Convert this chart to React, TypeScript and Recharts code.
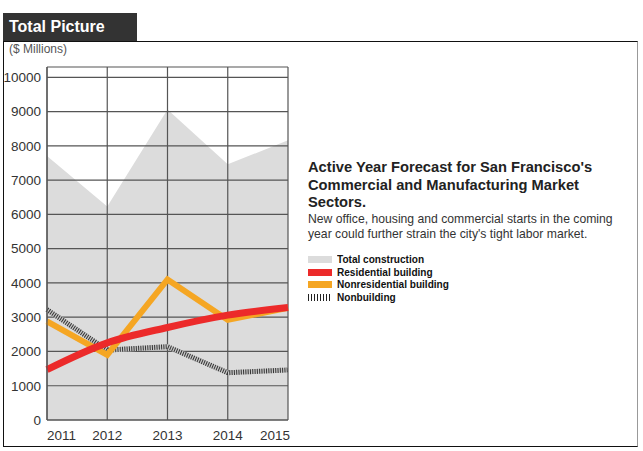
import React from 'react';
import { ComposedChart, Area, Line, XAxis, YAxis, CartesianGrid } from 'recharts';

const years = ['2011', '2012', '2013', '2014', '2015'];
const totalConstruction = [7700, 6230, 9060, 7460, 8160];
const residential = [1470, 2250, 2700, 3060, 3280];
const nonresidential = [2880, 1900, 4100, 2920, 3270];
const nonbuilding = [3220, 2040, 2140, 1380, 1460];
const yTicks = [0, 1000, 2000, 3000, 4000, 5000, 6000, 7000, 8000, 9000, 10000];

const legendItems = [
  { name: 'Total construction', color: '#dcdcdc' },
  { name: 'Residential building', color: '#ec2a2a' },
  { name: 'Nonresidential building', color: '#f5a623' },
  { name: 'Nonbuilding', color: 'hatch' },
];

const data = years.map((year, i) => ({
  year,
  total: totalConstruction[i],
  residential: residential[i],
  nonresidential: nonresidential[i],
  nonbuilding: nonbuilding[i],
}));

const CHART_W = 300;
const CHART_H = 451;
const DOMAIN: [number, number] = [0, 10300];
const font = 'Arial, "Liberation Sans", Helvetica, sans-serif';

// first and last year labels are pulled inside the plot edges
const YearTick = (props: any) => {
  const { x, y, payload, index } = props;
  const anchor = index === 0 ? 'start' : index === years.length - 1 ? 'end' : 'middle';
  const dx = index === years.length - 1 ? 2 : 0;
  return (
    <text x={x + dx} y={y} dy="0.71em" textAnchor={anchor} fill="#333" fontSize={13.5} fontFamily={font}>
      {payload.value}
    </text>
  );
};

const Swatch = ({ color }: { color: string }) => {
  const bg = color === 'hatch' ? 'repeating-linear-gradient(90deg, #222 0 1px, #fff 1px 3px)' : color;
  return <span style={{ display: 'inline-block', width: 24, height: 7, marginRight: 5, flex: 'none', background: bg }} />;
};

export default function App() {
  return (
    <div style={{ position: 'absolute', left: 0, top: 0, width: 643, height: 451, background: '#fff', fontFamily: font }}>
      {/* title tab */}
      <div
        style={{
          position: 'absolute', left: 3, top: 13, width: 134, height: 28, background: '#333',
          color: '#fff', fontWeight: 'bold', fontSize: 16, lineHeight: '28px', paddingLeft: 6, boxSizing: 'border-box',
        }}
      >
        Total Picture
      </div>
      {/* frame */}
      <div
        style={{
          position: 'absolute', left: 3, top: 41, width: 635, height: 406, boxSizing: 'border-box',
          borderTop: '1.5px solid #111', borderLeft: '1px solid #111', borderBottom: '1.5px solid #111', borderRight: '1px solid #999',
        }}
      />
      <div style={{ position: 'absolute', left: 9, top: 42, fontSize: 12, color: '#555' }}>($ Millions)</div>

      {/* area layer sits under the grid */}
      <div style={{ position: 'absolute', left: 0, top: 0 }}>
        <ComposedChart width={CHART_W} height={CHART_H} data={data} margin={{ top: 67, right: 12, left: 47, bottom: 31 }}>
          <XAxis dataKey="year" hide scale="point" padding={{ left: 0, right: 0 }} />
          <YAxis hide domain={DOMAIN} ticks={yTicks} />
          <Area type="linear" dataKey="total" stroke="none" fill="#dcdcdc" fillOpacity={1} isAnimationActive={false} />
        </ComposedChart>
      </div>

      {/* grid, axes and lines */}
      <div style={{ position: 'absolute', left: 0, top: 0 }}>
        <ComposedChart width={CHART_W} height={CHART_H} data={data} margin={{ top: 67, right: 12, left: 0, bottom: 0 }}>
          <CartesianGrid stroke="#555" strokeWidth={1.2} />
          <XAxis
            dataKey="year"
            scale="point"
            padding={{ left: 0, right: 0 }}
            height={31}
            axisLine={{ stroke: '#555', strokeWidth: 1.2 }}
            tickLine={false}
            tickMargin={4}
            tick={<YearTick />}
            interval={0}
          />
          <YAxis
            domain={DOMAIN}
            ticks={yTicks}
            width={47}
            axisLine={{ stroke: '#555', strokeWidth: 1.2 }}
            tickLine={false}
            tickMargin={0}
            tick={{ fill: '#333', fontSize: 13.5, fontFamily: font }}
          />
          <Line type="linear" dataKey="nonbuilding" stroke="#c8c8c8" strokeWidth={5} dot={false} isAnimationActive={false} />
          <Line type="linear" dataKey="nonbuilding" stroke="#333" strokeWidth={5} strokeDasharray="1 1.3" dot={false} isAnimationActive={false} />
          <Line type="linear" dataKey="nonresidential" stroke="#f5a623" strokeWidth={6} dot={false} isAnimationActive={false} />
          <Line type="monotone" dataKey="residential" stroke="#ec2a2a" strokeWidth={7} dot={false} isAnimationActive={false} />
        </ComposedChart>
      </div>

      {/* caption and legend */}
      <div style={{ position: 'absolute', left: 308, top: 159, width: 325 }}>
        <div style={{ fontSize: 14.7, fontWeight: 'bold', color: '#222', lineHeight: '17.5px' }}>
          Active Year Forecast for San Francisco's
          <br />
          Commercial and Manufacturing Market
          <br />
          Sectors.
        </div>
        <div style={{ fontSize: 12.2, color: '#333', lineHeight: '15px' }}>
          New office, housing and commercial starts in the coming
          <br />
          year could further strain the city's tight labor market.
        </div>
        <div style={{ marginTop: 12 }}>
          {legendItems.map((item) => (
            <div key={item.name} style={{ display: 'flex', alignItems: 'center', height: 12.5, overflow: 'visible' }}>
              <Swatch color={item.color} />
              <span
                style={{
                  display: 'inline-block', fontSize: 11.2, lineHeight: '11px', fontWeight: 'bold', color: '#111',
                  transform: 'scaleX(0.9)', transformOrigin: 'left center', whiteSpace: 'nowrap',
                }}
              >
                {item.name}
              </span>
            </div>
          ))}
        </div>
      </div>
    </div>
  );
}
